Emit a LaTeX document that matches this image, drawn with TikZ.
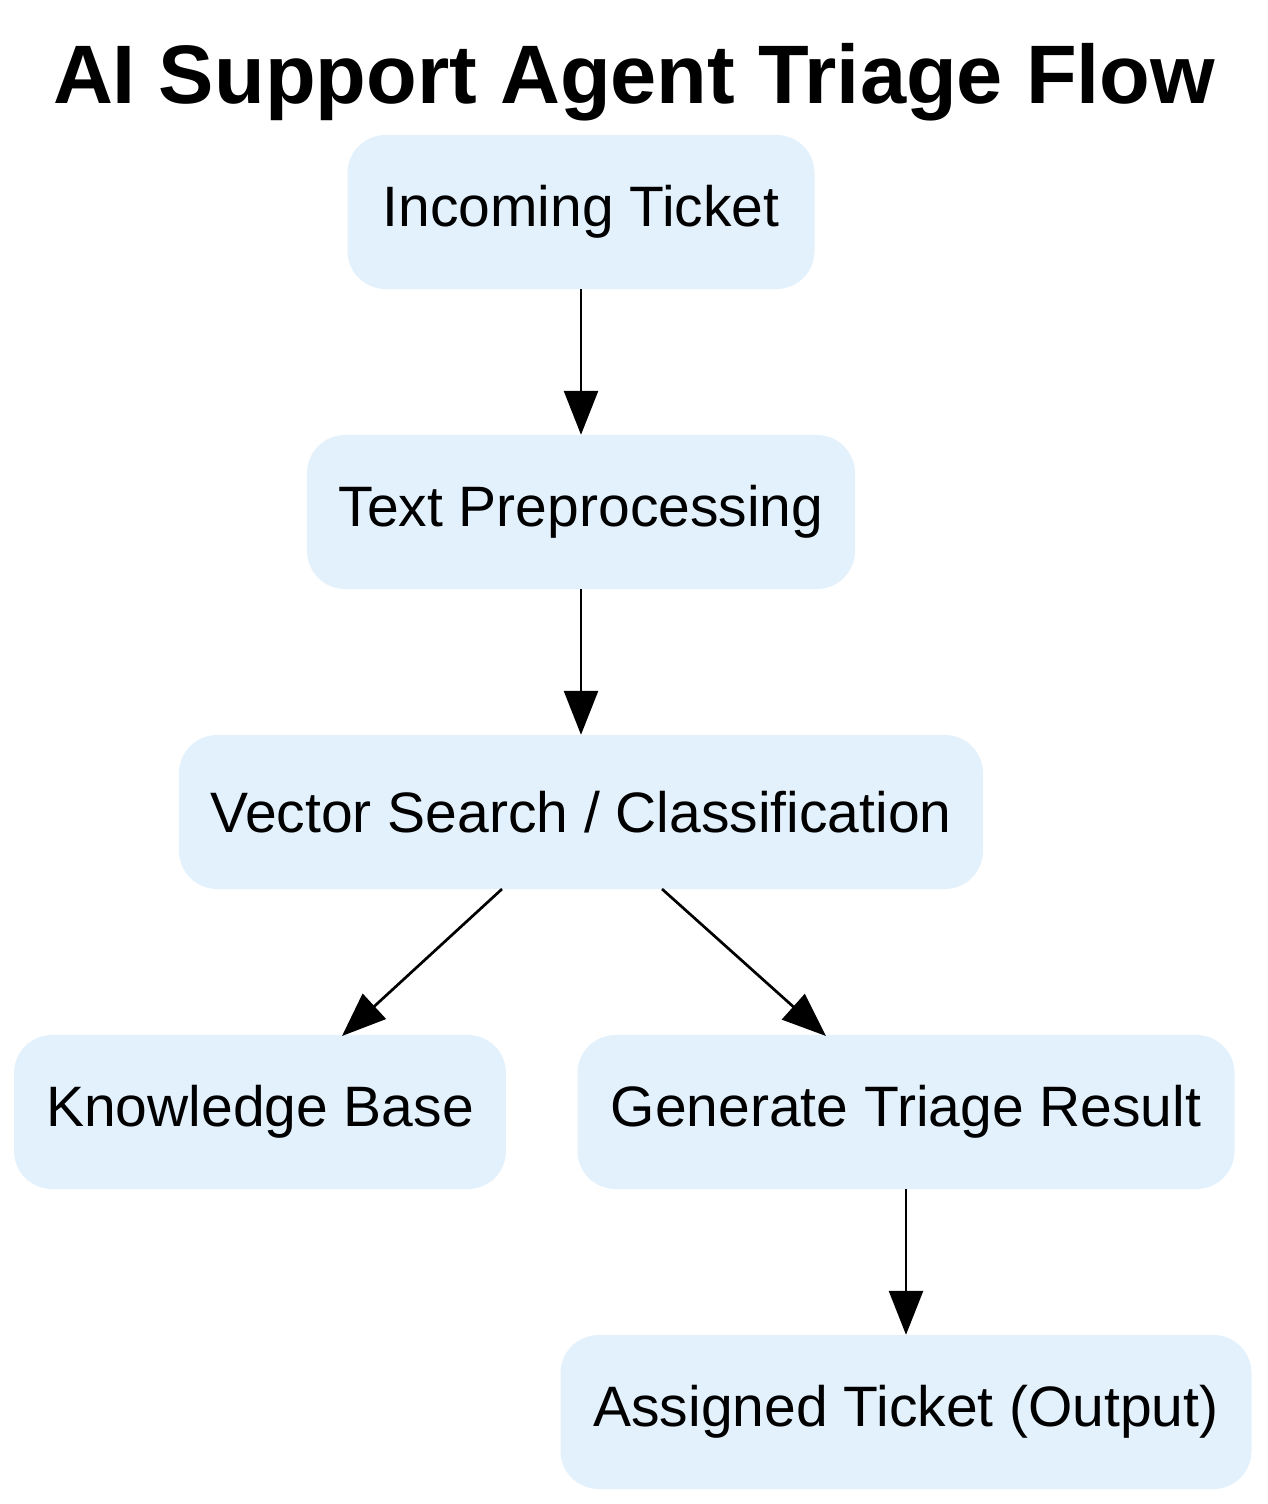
\documentclass[tikz,border=0pt]{standalone}
\usepackage{fontspec}
\setmainfont{Liberation Sans}
\usetikzlibrary{arrows.meta}
\definecolor{boxfill}{HTML}{E3F1FC}
\begin{document}
\begin{tikzpicture}[x=1pt,y=-1pt,
  box/.style={draw=none,fill=boxfill,rounded corners=38pt,inner sep=0pt,font=\fontsize{57}{57}\selectfont},
  arr/.style={line width=2.7pt,-{Triangle[length=44pt,width=34pt]}}]
\useasboundingbox (0,0) rectangle (1268,1504);
\node[font=\bfseries\fontsize{83}{83}\selectfont] (title) at (634,82) {AI Support Agent Triage Flow};
\node[box,minimum width=467pt,minimum height=154pt] (in) at (581,212) {Incoming Ticket};
\node[box,minimum width=548pt,minimum height=154pt] (pre) at (581,512) {Text Preprocessing};
\node[box,minimum width=804pt,minimum height=154pt] (vs) at (581,812) {Vector Search / Classification};
\node[box,minimum width=492pt,minimum height=154pt] (kb) at (260,1112) {Knowledge Base};
\node[box,minimum width=657pt,minimum height=154pt] (gen) at (906,1112) {Generate Triage Result};
\node[box,minimum width=691pt,minimum height=154pt] (out) at (906,1412) {Assigned Ticket (Output)};
\coordinate (vsL) at (502,889);
\coordinate (kbT) at (342,1036);
\coordinate (vsR) at (662,889);
\coordinate (genT) at (826,1036);
\draw[arr] (in) -- (pre);
\draw[arr] (pre) -- (vs);
\draw[arr] (vsL) -- (kbT);
\draw[arr] (vsR) -- (genT);
\draw[arr] (gen) -- (out);
\end{tikzpicture}
\end{document}
